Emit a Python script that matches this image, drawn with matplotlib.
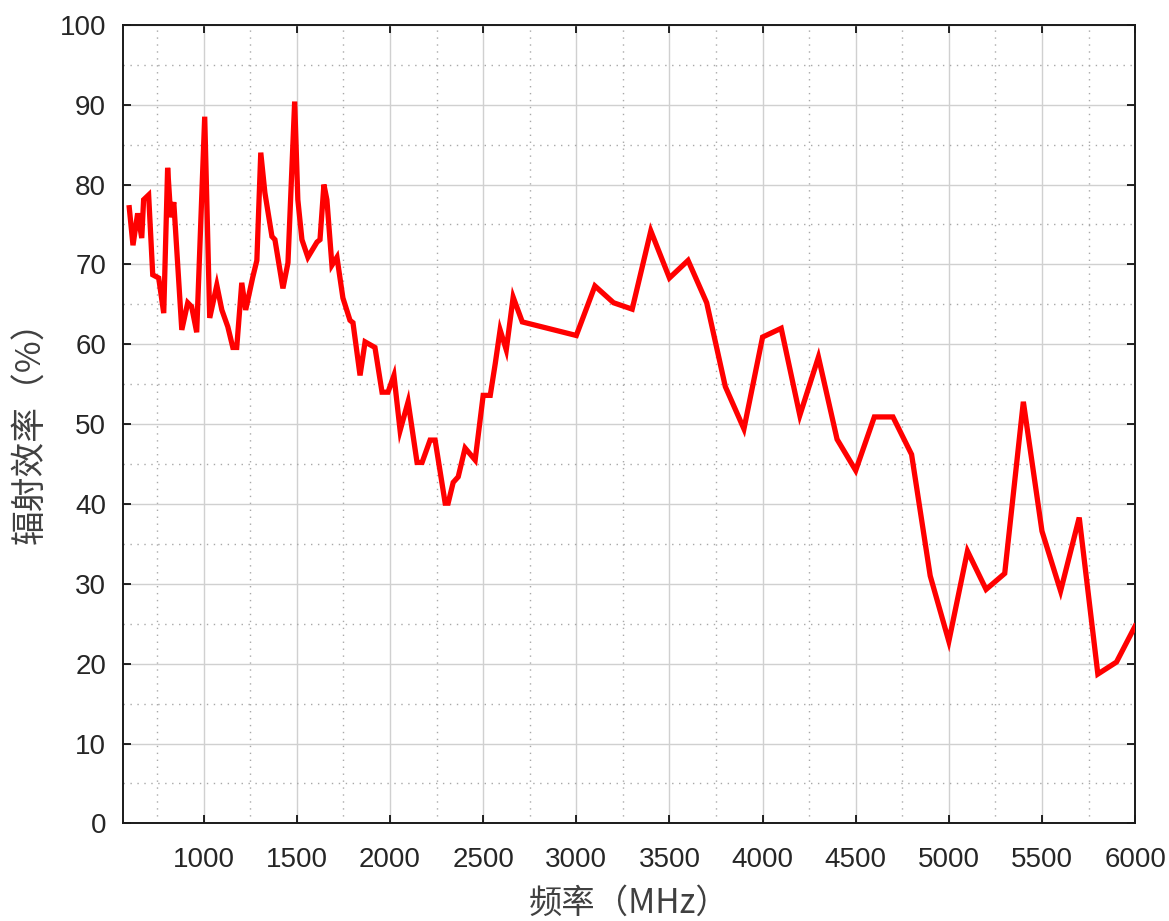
import numpy as np
import matplotlib
matplotlib.use("Agg")
import matplotlib.pyplot as plt
from matplotlib.ticker import MultipleLocator

# frequency (MHz) and radiation efficiency (%)
freq = [600, 620, 645, 667, 677, 704, 726, 758, 785, 806, 823, 839, 882, 914, 935,
        962, 1005, 1032, 1070, 1097, 1129, 1156, 1177, 1204, 1225, 1263, 1285, 1306,
        1328, 1366, 1382, 1425, 1452, 1488, 1505, 1527, 1559, 1608, 1624, 1645, 1661,
        1688, 1715, 1747, 1785, 1801, 1839, 1866, 1919, 1957, 1989, 2021, 2054, 2097,
        2145, 2172, 2215, 2242, 2296, 2312, 2339, 2366, 2403, 2457, 2500, 2538, 2565,
        2591, 2624, 2661, 2710, 3000, 3100, 3200, 3300, 3400, 3500, 3600, 3700, 3800,
        3900, 4000, 4100, 4200, 4300, 4400, 4500, 4600, 4700, 4800, 4900, 5000, 5100,
        5200, 5300, 5400, 5500, 5600, 5700, 5800, 5900, 6000]
eff = [77.1, 72.4, 76.4, 73.3, 78.1, 78.7, 68.7, 68.3, 63.9, 82.1, 75.9, 77.8, 61.8, 65.2, 64.7,
       61.5, 88.5, 63.3, 67.4, 64.3, 62.2, 59.6, 59.6, 67.7, 64.3, 68.4, 70.5, 84.0,
       79.0, 73.5, 73.1, 67.0, 70.2, 90.4, 78.1, 73.1, 70.9, 72.8, 73.1, 80.0, 78.1,
       69.9, 70.9, 65.8, 63.0, 62.7, 56.1, 60.3, 59.6, 54.0, 54.0, 56.1, 49.2, 52.8,
       45.2, 45.2, 48.0, 48.0, 40.1, 40.1, 42.7, 43.4, 47.0, 45.5, 53.6, 53.6, 57.6,
       61.8, 59.3, 65.9, 62.8, 61.1, 67.3, 65.2, 64.4, 74.2, 68.3, 70.5, 65.2, 54.7,
       49.4, 60.9, 62.0, 51.1, 58.4, 48.1, 44.2, 50.9, 50.9, 46.2, 31.0, 22.8, 34.1,
       29.3, 31.3, 52.8, 36.6, 29.1, 38.3, 18.7, 20.2, 24.7]

x_ticks = [1000, 1500, 2000, 2500, 3000, 3500, 4000, 4500, 5000, 5500, 6000]
y_ticks = list(range(0, 101, 10))

cjk = ['Noto Sans CJK SC', 'DejaVu Sans']
txt_color = '#262626'

fig = plt.figure(figsize=(11.69, 9.21), dpi=100)
ax = fig.add_axes([0.105, 0.106, 0.866, 0.867])

ax.plot(freq, eff, color='#ff0000', linewidth=3.8, solid_joinstyle='miter', zorder=3)

ax.set_xlim(565, 6000)
ax.set_ylim(0, 100)
ax.set_xticks(x_ticks)
ax.set_yticks(y_ticks)
ax.xaxis.set_minor_locator(MultipleLocator(250))
ax.yaxis.set_minor_locator(MultipleLocator(5))

ax.grid(which='major', color='#d0d0d0', linewidth=1.0, linestyle='-')
ax.grid(which='minor', color='#a8a8a8', linewidth=1.0, linestyle=(0, (1, 4)))
ax.set_axisbelow(True)

ax.tick_params(which='major', direction='in', length=6, width=1.2,
               top=True, right=True, labelsize=20, labelcolor=txt_color)
ax.tick_params(which='minor', length=0, top=True, right=True)
ax.tick_params(axis='x', pad=17)
ax.tick_params(axis='y', pad=12)
for lab in ax.get_xticklabels() + ax.get_yticklabels():
    lab.set_family(['Liberation Sans', 'DejaVu Sans'])

for s in ax.spines.values():
    s.set_linewidth(1.4)
    s.set_color('#1a1a1a')

ax.set_xlabel('频率（MHz）', family=cjk, fontsize=24, color='#404040', labelpad=9)
ax.set_ylabel('辐射效率（%）', family=cjk, fontsize=25, color='#404040', labelpad=8)

fig.savefig('out.png', dpi=100, facecolor='white')
